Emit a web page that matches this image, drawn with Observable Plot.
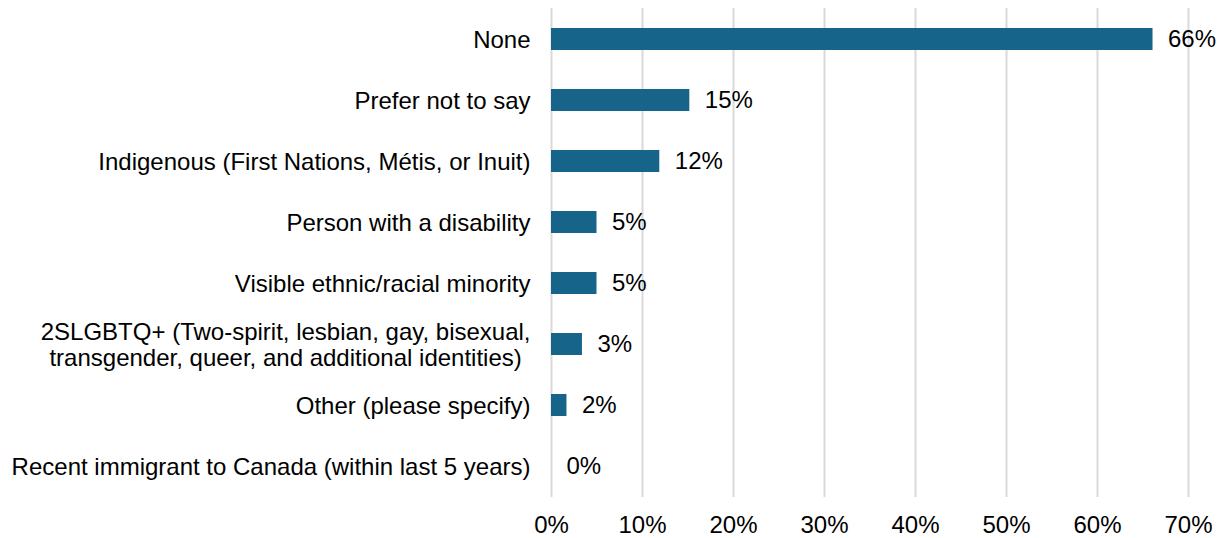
<!DOCTYPE html>
<html>
<head>
<meta charset="utf-8">
<script src="https://cdn.jsdelivr.net/npm/d3@7"></script>
<script src="https://cdn.jsdelivr.net/npm/@observablehq/plot@0.6"></script>
<style>
  html, body { margin: 0; padding: 0; background: #fff; }
</style>
</head>
<body>
<div id="chart"></div>
<script>
const categories = [
  "None",
  "Prefer not to say",
  "Indigenous (First Nations, Métis, or Inuit)",
  "Person with a disability",
  "Visible ethnic/racial minority",
  "2SLGBTQ+ (Two-spirit, lesbian, gay, bisexual,\ntransgender, queer, and additional identities)",
  "Other (please specify)",
  "Recent immigrant to Canada (within last 5 years)"
];
const values = [66.1, 15.2, 11.9, 5.0, 5.0, 3.4, 1.7, 0];
const valueLabels = ["66%", "15%", "12%", "5%", "5%", "3%", "2%", "0%"];
const xTicks = [0, 10, 20, 30, 40, 50, 60, 70];

const data = categories.map((c, i) => ({category: c, value: values[i], label: valueLabels[i]}));

const FS = 24;
const chart = Plot.plot({
  width: 1223,
  height: 538,
  marginLeft: 551,
  marginRight: 35,
  marginTop: 8,
  marginBottom: 41,
  style: {fontFamily: "'Liberation Sans', Arial, sans-serif", fontSize: FS + "px", color: "#000", background: "#fff"},
  x: {domain: [0, 70], ticks: xTicks, tickFormat: d => d + "%", label: null},
  y: {domain: categories, label: null, paddingInner: 0.645, paddingOuter: 0.3225},
  marks: [
    Plot.ruleX(xTicks, {stroke: "#d9d9d9", strokeWidth: 2}),
    Plot.barX(data, {x: "value", y: "category", fill: "#17648a"}),
    Plot.text(data, {x: "value", y: "category", text: "label", textAnchor: "start", dx: 15, fill: "#000", fontSize: FS}),
    Plot.axisX({ticks: xTicks, tickFormat: d => d + "%", tickSize: 0, tickPadding: 18, fontSize: FS, label: null}),
    Plot.axisY({tickSize: 0, tickPadding: 21, fontSize: FS, label: null, lineHeight: 1.08})
  ]
});
document.getElementById("chart").appendChild(chart);

// center multi-line tick labels relative to their longest line
chart.querySelectorAll("text").forEach(t => {
  if (t.querySelectorAll("tspan").length > 1) {
    const bb = t.getBBox();
    const w = bb.width;
    t.setAttribute("text-anchor", "middle");
    const tr = t.getAttribute("transform") || "";
    t.setAttribute("transform", tr + ` translate(${-w / 2},0)`);
  }
});
</script>
</body>
</html>
